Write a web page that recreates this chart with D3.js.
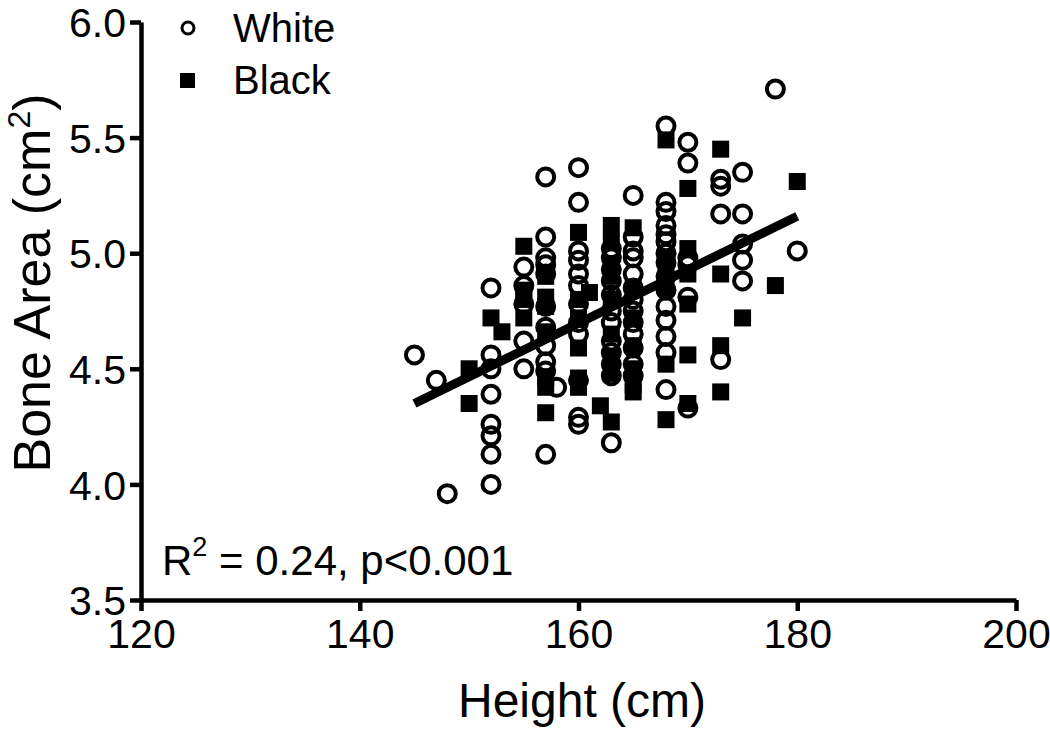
<!DOCTYPE html>
<html>
<head>
<meta charset="utf-8">
<script src="https://cdn.jsdelivr.net/npm/d3@7"></script>
<style>
  body { margin: 0; background: #fff; }
  svg text { font-family: "Liberation Sans", Arial, sans-serif; fill: #000; }
</style>
</head>
<body>
<svg id="chart" width="1050" height="732"></svg>
<script>
// height (cm), bone area (cm2)
var whitePoints = [
  [145, 4.56], [147, 4.45], [148, 3.96],
  [152, 4.85], [152, 4.56], [152, 4.50], [152, 4.39], [152, 4.26], [152, 4.21], [152, 4.13], [152, 4.00],
  [155, 4.94], [155, 4.86], [155, 4.78], [155, 4.62], [155, 4.50],
  [157, 5.33], [157, 5.07], [157, 4.98], [157, 4.95], [157, 4.91], [157, 4.77], [157, 4.68], [157, 4.60], [157, 4.53], [157, 4.49], [157, 4.13],
  [158, 4.42],
  [160, 5.37], [160, 5.22], [160, 5.01], [160, 4.97], [160, 4.91], [160, 4.86], [160, 4.78], [160, 4.70], [160, 4.65], [160, 4.45], [160, 4.29], [160, 4.26],
  [163, 5.02], [163, 4.98], [163, 4.93], [163, 4.88], [163, 4.82], [163, 4.75], [163, 4.70], [163, 4.62], [163, 4.57], [163, 4.52], [163, 4.47], [163, 4.18],
  [165, 5.25], [165, 5.07], [165, 5.01], [165, 4.98], [165, 4.91], [165, 4.85], [165, 4.80], [165, 4.75], [165, 4.70], [165, 4.65], [165, 4.59], [165, 4.52], [165, 4.47],
  [168, 5.55], [168, 5.22], [168, 5.18], [168, 5.12], [168, 5.08], [168, 5.05], [168, 5.00], [168, 4.96], [168, 4.90], [168, 4.84], [168, 4.77], [168, 4.71], [168, 4.64], [168, 4.57], [168, 4.41],
  [170, 5.48], [170, 5.39], [170, 4.98], [170, 4.95], [170, 4.81], [170, 4.33],
  [173, 5.32], [173, 5.29], [173, 5.17], [173, 4.54],
  [175, 5.35], [175, 5.17], [175, 5.04], [175, 4.97], [175, 4.88],
  [178, 5.71], [180, 5.01]
];

var blackPoints = [
  [150, 4.50], [150, 4.35],
  [152, 4.72], [153, 4.66],
  [155, 5.03], [155, 4.84], [155, 4.80], [155, 4.72],
  [157, 4.90], [157, 4.81], [157, 4.77], [157, 4.66], [157, 4.46], [157, 4.42], [157, 4.31],
  [160, 5.09], [160, 4.80], [160, 4.72], [160, 4.59], [160, 4.46], [160, 4.42],
  [161, 4.83], [162, 4.34],
  [163, 5.12], [163, 5.05], [163, 4.95], [163, 4.90], [163, 4.80], [163, 4.65], [163, 4.55], [163, 4.48], [163, 4.27],
  [165, 5.11], [165, 4.85], [165, 4.72], [165, 4.60], [165, 4.50], [165, 4.43], [165, 4.40],
  [168, 5.49], [168, 4.98], [168, 4.92], [168, 4.85], [168, 4.52], [168, 4.28],
  [170, 5.28], [170, 5.02], [170, 4.91], [170, 4.78], [170, 4.56], [170, 4.35],
  [173, 5.45], [173, 4.91], [173, 4.60], [173, 4.40],
  [175, 4.72], [178, 4.86], [180, 5.31]
];

var fitHeight = [145, 180];
var fitArea = [4.35, 5.16];

var xTicks = [120, 140, 160, 180, 200];
var yTicks = [3.5, 4.0, 4.5, 5.0, 5.5, 6.0];

var svg = d3.select("#chart");

var x = d3.scaleLinear().domain([120, 200]).range([141, 1016]);
var y = d3.scaleLinear().domain([3.5, 6.0]).range([600, 22]);

// axes
var xAxis = svg.append("g")
    .attr("transform", "translate(0,600)")
    .call(d3.axisBottom(x).tickValues(xTicks).tickFormat(d3.format("d")).tickSize(11).tickSizeOuter(0).tickPadding(8));

var yAxis = svg.append("g")
    .attr("transform", "translate(141,0)")
    .call(d3.axisLeft(y).tickValues(yTicks).tickFormat(d3.format(".1f")).tickSize(11).tickSizeOuter(0).tickPadding(4));

[xAxis, yAxis].forEach(function(g) {
    g.select(".domain").attr("stroke", "#000").attr("stroke-width", 4.5);
    g.selectAll(".tick line").attr("stroke", "#000").attr("stroke-width", 4.5);
    g.selectAll(".tick text")
        .attr("font-size", 41)
        .attr("font-family", "Liberation Sans, Arial, sans-serif")
        .attr("fill", "#000");
});
yAxis.selectAll(".tick text").attr("dy", "0.36em");

// axis titles
svg.append("text")
    .attr("x", 582)
    .attr("y", 717)
    .attr("text-anchor", "middle")
    .attr("font-size", 48)
    .text("Height (cm)");

var yTitle = svg.append("text")
    .attr("transform", "translate(50,283) rotate(-90)")
    .attr("text-anchor", "middle")
    .attr("font-size", 52);
yTitle.append("tspan").text("Bone Area (cm");
yTitle.append("tspan").attr("font-size", 32).attr("dy", -20).text("2");
yTitle.append("tspan").attr("dy", 20).text(")");

// points
svg.append("g").selectAll("circle")
    .data(whitePoints)
    .join("circle")
    .attr("cx", function(d) { return x(d[0]); })
    .attr("cy", function(d) { return y(d[1]); })
    .attr("r", 8.5)
    .attr("fill", "none")
    .attr("stroke", "#000")
    .attr("stroke-width", 4);

var sq = 17;
svg.append("g").selectAll("rect")
    .data(blackPoints)
    .join("rect")
    .attr("x", function(d) { return x(d[0]) - sq / 2; })
    .attr("y", function(d) { return y(d[1]) - sq / 2; })
    .attr("width", sq)
    .attr("height", sq)
    .attr("fill", "#000");

// regression line
svg.append("line")
    .attr("x1", x(fitHeight[0]))
    .attr("y1", y(fitArea[0]))
    .attr("x2", x(fitHeight[1]))
    .attr("y2", y(fitArea[1]))
    .attr("stroke", "#000")
    .attr("stroke-width", 9);

// legend
var legend = svg.append("g");
legend.append("circle")
    .attr("cx", 188).attr("cy", 28).attr("r", 6)
    .attr("fill", "none").attr("stroke", "#000").attr("stroke-width", 3);
legend.append("text")
    .attr("x", 233).attr("y", 42).attr("font-size", 40).text("White");
legend.append("rect")
    .attr("x", 180).attr("y", 73).attr("width", 15).attr("height", 15).attr("fill", "#000");
legend.append("text")
    .attr("x", 233).attr("y", 94).attr("font-size", 40).text("Black");

// annotation
var note = svg.append("text")
    .attr("x", 162).attr("y", 575).attr("font-size", 42);
note.append("tspan").text("R");
note.append("tspan").attr("font-size", 27).attr("dy", -19).text("2");
note.append("tspan").attr("dy", 19).text(" = 0.24, p<0.001");
</script>
</body>
</html>
